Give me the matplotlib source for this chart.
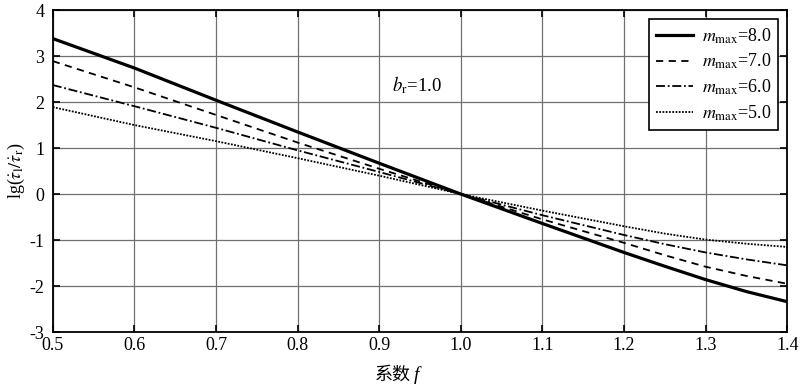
import matplotlib.pyplot as plt
import numpy as np

plt.rcParams["font.family"] = ["Liberation Serif", "Noto Sans CJK SC"]
plt.rcParams["mathtext.fontset"] = "stix"
plt.rcParams["axes.unicode_minus"] = False

# 数据
f = [0.5, 0.6, 0.7, 0.8, 0.9, 1.0, 1.1, 1.2, 1.25, 1.3, 1.35, 1.4]
m8 = [3.38, 2.74, 2.04, 1.35, 0.67, 0.0, -0.64, -1.27, -1.57, -1.86, -2.12, -2.34]
m7 = [2.89, 2.32, 1.72, 1.12, 0.55, 0.0, -0.55, -1.06, -1.33, -1.58, -1.78, -1.95]
m6 = [2.37, 1.91, 1.44, 0.95, 0.48, 0.0, -0.46, -0.89, -1.09, -1.27, -1.42, -1.55]
m5 = [1.89, 1.50, 1.15, 0.78, 0.40, 0.0, -0.36, -0.70, -0.86, -0.99, -1.08, -1.15]
labels = ["8.0", "7.0", "6.0", "5.0"]

fig = plt.figure(figsize=(8, 3.87), dpi=100)
ax = fig.add_axes([0.066, 0.142, 0.918, 0.832])

ax.plot(f, m8, color="black", lw=2.3, ls="-", label=r"$m_{\rm max}$=" + labels[0])
ax.plot(f, m7, color="black", lw=1.3, ls=(0, (4, 3)), label=r"$m_{\rm max}$=" + labels[1])
ax.plot(f, m6, color="black", lw=1.3, ls=(0, (5, 1.5, 1, 1.5)), label=r"$m_{\rm max}$=" + labels[2])
ax.plot(f, m5, color="black", lw=1.3, ls=(0, (1, 0.8)), label=r"$m_{\rm max}$=" + labels[3])

ax.text(0.916, 2.37, r"$b_{\rm r}$=1.0", fontsize=13.5, va="center", ha="left")

ax.set_xlim(0.5, 1.4)
ax.set_ylim(-3, 4)
ax.set_xticks(np.arange(0.5, 1.41, 0.1))
ax.set_xticklabels([f"{v:.1f}" for v in np.arange(0.5, 1.41, 0.1)])
ax.set_yticks(range(-3, 5))
ax.tick_params(direction="in", top=True, right=True, labelsize=13, length=5, width=1.2)
ax.tick_params(axis="y", pad=6)
ax.grid(True, color="#707070", lw=0.9)
for s in ax.spines.values():
    s.set_linewidth(1.3)

# x 轴标题：中文 + 斜体 f
ax.text(0.487, -0.105, "系数", transform=ax.transAxes, fontsize=13,
        family="Noto Sans CJK SC", ha="right", va="top")
ax.text(0.492, -0.105, "f", transform=ax.transAxes, fontsize=14,
        style="italic", ha="left", va="top")
ax.set_ylabel(r"lg($\dot{\tau}_{\rm l}/\dot{\tau}_{\rm r}$)", fontsize=13, labelpad=2)

leg = ax.legend(loc="upper right", fontsize=13, fancybox=False, framealpha=1,
                edgecolor="black", handlelength=2.0, handletextpad=0.5,
                borderpad=0.4, labelspacing=0.35)
leg.get_frame().set_linewidth(1.2)

fig.savefig("out.png", dpi=100)
